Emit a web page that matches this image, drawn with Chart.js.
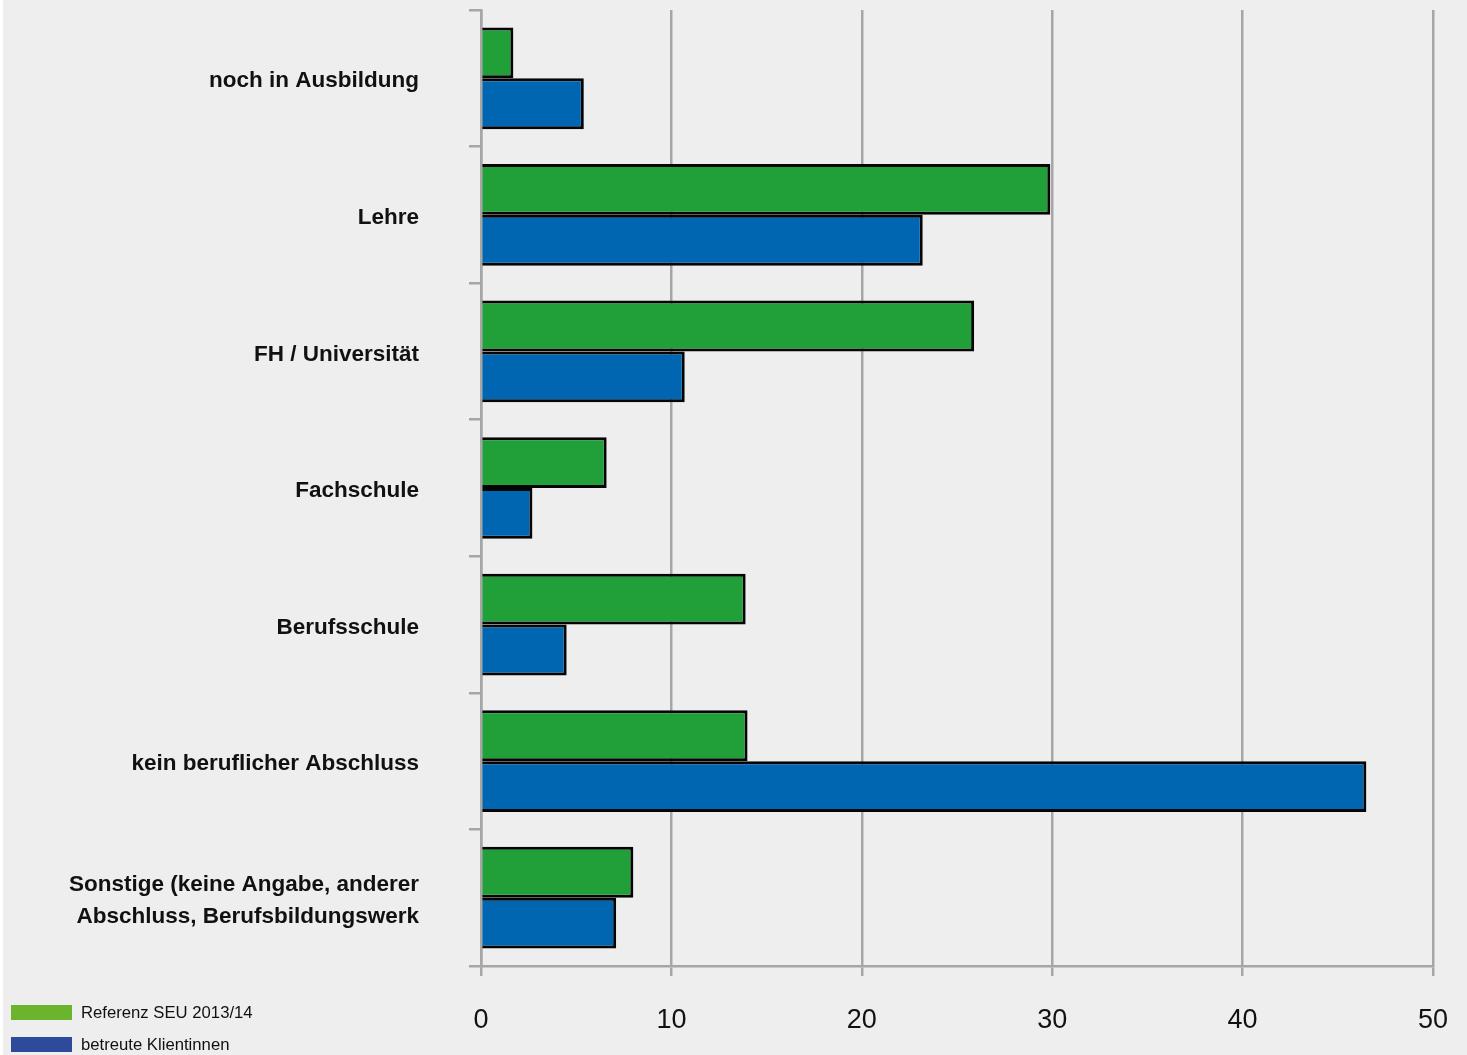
<!DOCTYPE html>
<html>
<head>
<meta charset="utf-8">
<script src="https://cdn.jsdelivr.net/npm/chart.js@4.4.1/dist/chart.umd.min.js"></script>
<style>
  html, body { margin:0; padding:0; background:#ffffff; }
  #wrap { position:relative; width:1467px; height:1055px; overflow:hidden; }
  #c { position:absolute; left:0; top:0; }
  .leg { position:absolute; left:11px; font-family:"Liberation Sans", Arial, sans-serif; font-size:16.7px; color:#111; }
  .leg span.box { position:absolute; left:0; width:61px; height:15px; }
  .leg span.txt { position:absolute; left:70px; white-space:nowrap; line-height:15px; top:0; }
</style>
</head>
<body>
<div id="wrap">
  <canvas id="c" width="1467" height="1055"></canvas>
  <div class="leg" style="top:1005px;"><span class="box" style="background:#6ab42e;"></span><span class="txt">Referenz SEU 2013/14</span></div>
  <div class="leg" style="top:1037px;"><span class="box" style="background:#2e4a9a;"></span><span class="txt">betreute Klientinnen</span></div>
</div>
<script>
const categories = [
  "noch in Ausbildung",
  "Lehre",
  "FH / Universität",
  "Fachschule",
  "Berufsschule",
  "kein beruflicher Abschluss",
  ["Sonstige (keine Angabe, anderer", "Abschluss, Berufsbildungswerk"]
];
const seriesNames = ["Referenz SEU 2013/14", "betreute Klientinnen"];
const referenzValues = [1.7, 29.9, 25.9, 6.6, 13.9, 14.0, 8.0];
const klientinnenValues = [5.4, 23.2, 10.7, 2.7, 4.5, 46.5, 7.1];
const xTicks = [0, 10, 20, 30, 40, 50];

const bgPlugin = {
  id: 'bg',
  beforeDraw(chart) {
    const ctx = chart.ctx;
    ctx.save();
    ctx.fillStyle = '#ffffff';
    ctx.fillRect(0, 0, chart.width, chart.height);
    ctx.fillStyle = '#eeeeee';
    ctx.fillRect(3, 0, chart.width - 3, chart.height);
    ctx.restore();
  }
};

new Chart(document.getElementById('c'), {
  type: 'bar',
  data: {
    labels: categories,
    datasets: [
      { label: seriesNames[0], data: referenzValues, backgroundColor: '#21a03a', borderColor: '#050505', borderWidth: 3 },
      { label: seriesNames[1], data: klientinnenValues, backgroundColor: '#0066b2', borderColor: '#050505', borderWidth: 3 }
    ]
  },
  options: {
    indexAxis: 'y',
    responsive: false,
    animation: false,
    devicePixelRatio: 1,
    layout: { padding: { top: 10, right: 34, left: 0, bottom: 0 } },
    datasets: { bar: { categoryPercentage: 0.745, barPercentage: 1.0 } },
    plugins: { legend: { display: false }, tooltip: { enabled: false } },
    scales: {
      x: {
        min: 0, max: 50,
        afterBuildTicks(scale) { scale.ticks = xTicks.map(v => ({ value: v })); },
        afterFit(scale) { scale.height = 89; scale.paddingLeft = 0; scale.paddingRight = 0; },
        grid: { color: '#a6a6a6', lineWidth: 2.5, drawTicks: true, tickLength: 10 },
        border: { display: true, color: '#a6a6a6', width: 2.5 },
        ticks: { color: '#111111', padding: 28, font: { family: '"Liberation Sans", Arial, sans-serif', size: 27 } }
      },
      y: {
        z: 1,
        afterFit(scale) { scale.width = 481; scale.paddingTop = 0; scale.paddingBottom = 0; },
        grid: { display: true, drawOnChartArea: false, drawTicks: true, tickLength: 12, color: '#a6a6a6', lineWidth: 2.5, offset: true },
        border: { display: true, color: '#a6a6a6', width: 2.5 },
        ticks: { color: '#111111', padding: 50, labelOffset: 3, font: { family: '"Liberation Sans", Arial, sans-serif', size: 22.5, weight: 'bold', lineHeight: 1.42 } }
      }
    }
  },
  plugins: [bgPlugin]
});
</script>
</body>
</html>
